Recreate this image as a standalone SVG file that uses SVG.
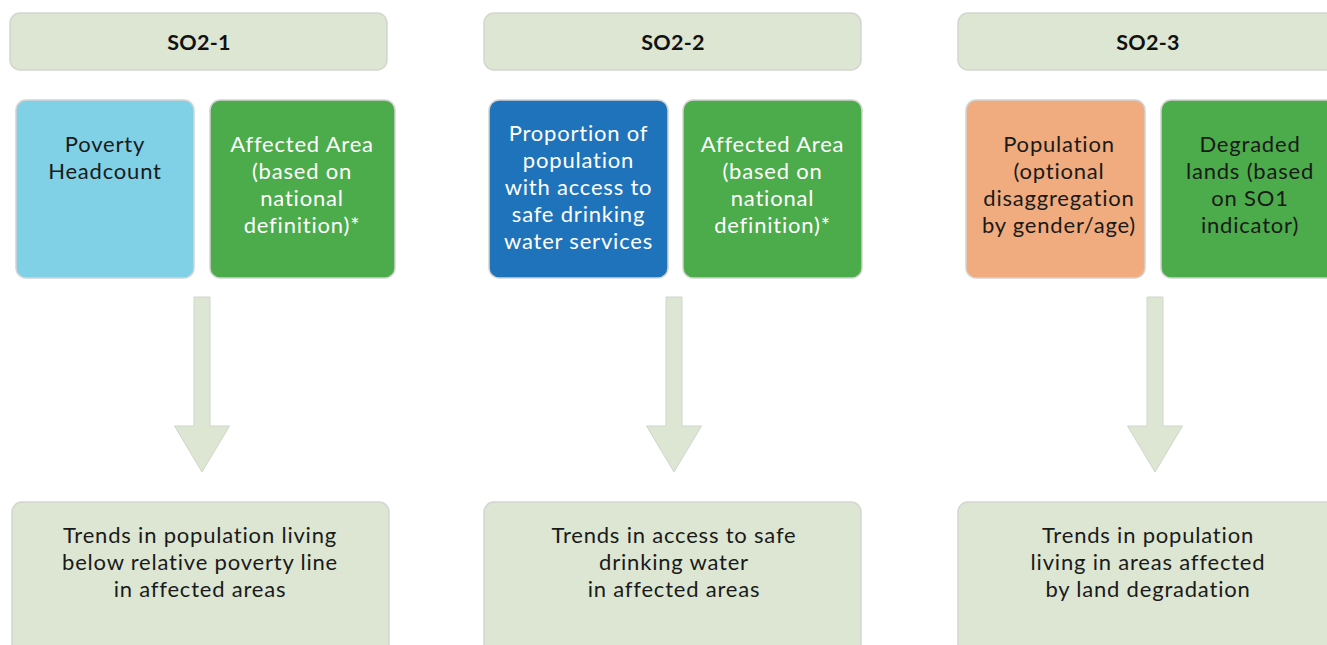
<svg xmlns="http://www.w3.org/2000/svg" width="1327" height="645" viewBox="0 0 1327 645">
  <style>
    .hdr { fill: #dce6d2; stroke: #d2d6cf; stroke-width: 1.5; }
    .box { stroke: #d4d4d4; stroke-width: 1.5; }
    .out { fill: #dce6d2; stroke: #d2d6cf; stroke-width: 1.5; }
    .arrow { fill: #dce6d2; stroke: #d0d6cb; stroke-width: 1; }
    .lightblue { fill: #80d0e6; }
    .green { fill: #4cab4a; }
    .blue { fill: #1f73bb; }
    .orange { fill: #f0ab7e; }
    text { font-family: Lato, "Open Sans", sans-serif; font-size: 22px; letter-spacing: 0.8px; text-anchor: middle; }
    .title { font-weight: bold; font-size: 21.5px; letter-spacing: 0.3px; fill: #111; }
    .dark { fill: #1a1a1a; }
    .light { fill: #ffffff; }
  </style>

  <!-- column 1 -->
  <g id="so2-1-header">
    <rect class="hdr" x="10" y="13" width="377" height="57" rx="10"/>
    <text class="title" x="199" y="50">SO2-1</text>
  </g>
  <g id="poverty-headcount">
    <rect class="box lightblue" x="16" y="100" width="178" height="178" rx="10"/>
    <text class="dark" x="105" y="152">Poverty</text>
    <text class="dark" x="105" y="179">Headcount</text>
  </g>
  <g id="affected-area-1">
    <rect class="box green" x="210" y="100" width="185" height="178" rx="10"/>
    <text class="light" x="302" y="152">Affected Area</text>
    <text class="light" x="302" y="179">(based on</text>
    <text class="light" x="302" y="206">national</text>
    <text class="light" x="302" y="233">definition)*</text>
  </g>
  <g id="trend-1">
    <rect class="out" x="12" y="502" width="377" height="160" rx="10"/>
    <text class="dark" x="200" y="543">Trends in population living</text>
    <text class="dark" x="200" y="570">below relative poverty line</text>
    <text class="dark" x="200" y="597">in affected areas</text>
  </g>

  <!-- column 2 -->
  <g id="so2-2-header">
    <rect class="hdr" x="484" y="13" width="377" height="57" rx="10"/>
    <text class="title" x="673" y="50">SO2-2</text>
  </g>
  <g id="drinking-water">
    <rect class="box blue" x="489" y="100" width="179" height="178" rx="10"/>
    <text class="light" x="578.5" y="141">Proportion of</text>
    <text class="light" x="578.5" y="168">population</text>
    <text class="light" x="578.5" y="195">with access to</text>
    <text class="light" x="578.5" y="222">safe drinking</text>
    <text class="light" x="578.5" y="249">water services</text>
  </g>
  <g id="affected-area-2">
    <rect class="box green" x="683" y="100" width="179" height="178" rx="10"/>
    <text class="light" x="772.5" y="152">Affected Area</text>
    <text class="light" x="772.5" y="179">(based on</text>
    <text class="light" x="772.5" y="206">national</text>
    <text class="light" x="772.5" y="233">definition)*</text>
  </g>
  <g id="trend-2">
    <rect class="out" x="484" y="502" width="377" height="160" rx="10"/>
    <text class="dark" x="674" y="543">Trends in access to safe</text>
    <text class="dark" x="674" y="570">drinking water</text>
    <text class="dark" x="674" y="597">in affected areas</text>
  </g>

  <!-- column 3 -->
  <g id="so2-3-header">
    <rect class="hdr" x="958" y="13" width="380" height="57" rx="10"/>
    <text class="title" x="1148" y="50">SO2-3</text>
  </g>
  <g id="population">
    <rect class="box orange" x="966" y="100" width="179" height="178" rx="10"/>
    <text class="dark" x="1059" y="152">Population</text>
    <text class="dark" x="1059" y="179">(optional</text>
    <text class="dark" x="1059" y="206">disaggregation</text>
    <text class="dark" x="1059" y="233">by gender/age)</text>
  </g>
  <g id="degraded-lands">
    <rect class="box green" x="1161" y="100" width="185" height="178" rx="10"/>
    <text class="dark" x="1250" y="152">Degraded</text>
    <text class="dark" x="1250" y="179">lands (based</text>
    <text class="dark" x="1250" y="206">on SO1</text>
    <text class="dark" x="1250" y="233">indicator)</text>
  </g>
  <g id="trend-3">
    <rect class="out" x="958" y="502" width="380" height="160" rx="10"/>
    <text class="dark" x="1148" y="543">Trends in population</text>
    <text class="dark" x="1148" y="570">living in areas affected</text>
    <text class="dark" x="1148" y="597">by land degradation</text>
  </g>

  <!-- block arrows -->
  <g id="connectors">
    <path class="arrow" d="M194 297 H210 V426 H229.5 L202 472 L174.5 426 H194 Z"/>
    <path class="arrow" d="M666 297 H682 V426 H701.5 L674 472 L646.5 426 H666 Z"/>
    <path class="arrow" d="M1147 297 H1163 V426 H1182.5 L1155 472 L1127.5 426 H1147 Z"/>
  </g>
</svg>
